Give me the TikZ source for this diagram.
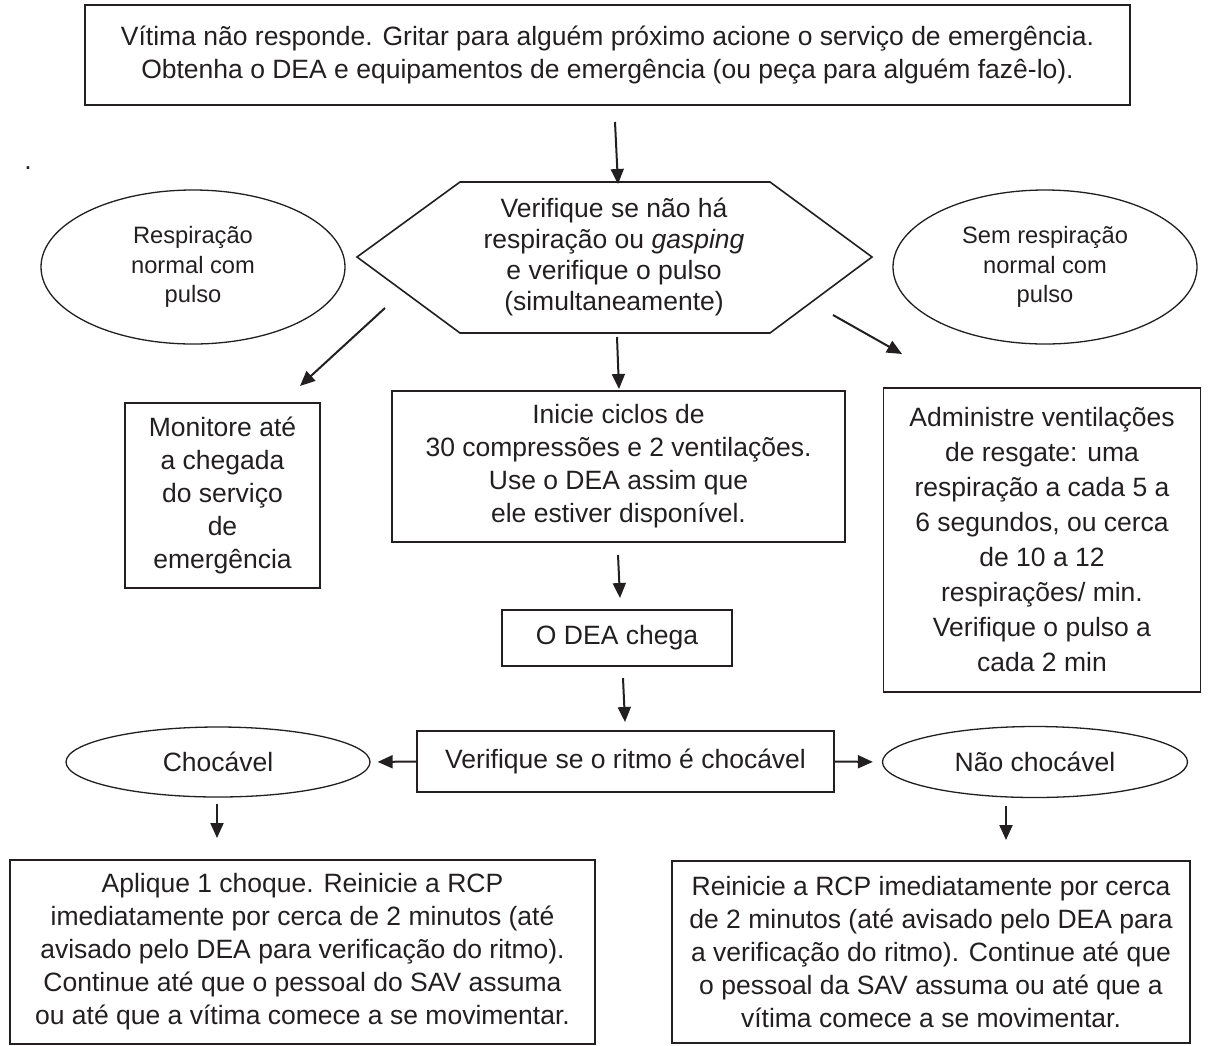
\documentclass[tikz,border=0pt]{standalone}
\usepackage{fontspec}
\setmainfont{Liberation Sans}
\usetikzlibrary{arrows.meta, shapes.geometric}
\definecolor{ink}{RGB}{35,31,32}

\begin{document}
\begin{tikzpicture}[x=1pt, y=-1pt,
        box/.style={rectangle, draw=ink, line width=1.6pt, align=center, inner sep=0pt, text=ink, font=\fontsize{26.5}{33}\selectfont},
        oval/.style={ellipse, draw=ink, line width=1.3pt, align=center, inner sep=0pt, text=ink, font=\fontsize{23.7}{29.5}\selectfont},
        arr/.style={-{Triangle[length=15pt,width=13pt]}, line width=2pt, draw=ink}
    ]
    \useasboundingbox (0,0) rectangle (1210,1045);

    % Start
    \node[box, minimum width=1045, minimum height=100] (start) at (607.5,55) {V\'itima n\~ao responde. Gritar para algu\'em pr\'oximo acione o servi\c{c}o de emerg\^encia.\\Obtenha o DEA e equipamentos de emerg\^encia (ou pe\c{c}a para algu\'em faz\^e-lo).};
    \node[text=ink, font=\fontsize{26.5}{33}\selectfont] (dot) at (28,168) {.};

    % Check (hexagon)
    \coordinate (hexL) at (357,257);
    \coordinate (hexR) at (872,257);
    \draw[ink, line width=1.6pt] (hexL) -- (460,182) -- (770,182) -- (hexR) -- (770,333) -- (460,333) -- cycle;
    \node[align=center, text=ink, font=\fontsize{26.5}{31}\selectfont] (check) at (614,257) {Verifique se n\~ao h\'a\\respira\c{c}\~ao ou \textit{gasping}\\e verifique o pulso\\(simultaneamente)};

    \node[oval, minimum width=304, minimum height=154] (normal) at (193,267) {Respira\c{c}\~ao\\normal com\\pulso};
    \node[oval, minimum width=304, minimum height=154] (nobreath) at (1045,267) {Sem respira\c{c}\~ao\\normal com\\pulso};

    % Second row
    \node[box, minimum width=195, minimum height=185] (monitor) at (222.5,495.5) {Monitore at\'e\\a chegada\\do servi\c{c}o\\de\\emerg\^encia};
    \node[box, minimum width=453, minimum height=151] (cpr) at (618.5,466.5) {Inicie ciclos de\\30 compress\~oes e 2 ventila\c{c}\~oes.\\Use o DEA assim que\\ele estiver dispon\'ivel.};
    \node[box, minimum width=317, minimum height=304, font=\fontsize{26.5}{35}\selectfont] (rescue) at (1042,540) {Administre ventila\c{c}\~oes\\de resgate: uma\\respira\c{c}\~ao a cada 5 a\\6 segundos, ou cerca\\de 10 a 12\\respira\c{c}\~oes/ min.\\Verifique o pulso a\\cada 2 min};

    % AED
    \node[box, minimum width=230, minimum height=56] (aed) at (617,638) {O DEA chega};
    \node[box, minimum width=417, minimum height=61] (rhythm) at (625.5,761.5) {Verifique se o ritmo \'e choc\'avel};
    \node[oval, minimum width=304, minimum height=70, font=\fontsize{26.5}{33}\selectfont] (shock) at (218,762) {Choc\'avel};
    \node[oval, minimum width=305, minimum height=71, font=\fontsize{26.5}{33}\selectfont] (noshock) at (1035,762) {N\~ao choc\'avel};

    % Outcomes
    \node[box, minimum width=585, minimum height=184, font=\fontsize{26.5}{33}\selectfont] (shockcpr) at (302.5,952) {Aplique 1 choque. Reinicie a RCP\\imediatamente por cerca de 2 minutos (at\'e\\avisado pelo DEA para verifica\c{c}\~ao do ritmo).\\Continue at\'e que o pessoal do SAV assuma\\ou at\'e que a v\'itima comece a se movimentar.};
    \node[box, minimum width=518, minimum height=182, font=\fontsize{26.5}{33}\selectfont] (noshockcpr) at (931,952) {Reinicie a RCP imediatamente por cerca\\de 2 minutos (at\'e avisado pelo DEA para\\a verifica\c{c}\~ao do ritmo). Continue at\'e que\\o pessoal da SAV assuma ou at\'e que a\\v\'itima comece a se movimentar.};

    % Arrow ends
    \coordinate (toL) at (385,308);
    \coordinate (toLend) at (300,386);
    \coordinate (toR) at (833,315);
    \coordinate (toRend) at (902,354);

    % Connections
    \draw[arr] (615,122) -- (618,184);
    \draw[arr] (toL) -- (toLend);
    \draw[arr] (toR) -- (toRend);
    \draw[arr] (617,337) -- (619,389);
    \draw[arr] (618,555) -- (620,598);
    \draw[arr] (623,678) -- (625,722);
    \draw[arr, shorten >=7pt] (rhythm.west) -- (shock.east);
    \draw[arr, shorten >=9pt] (rhythm.east) -- (noshock.west);
    \draw[arr] (217,804) -- (217,838);
    \draw[arr] (1006,806) -- (1006,840);
\end{tikzpicture}
\end{document}
